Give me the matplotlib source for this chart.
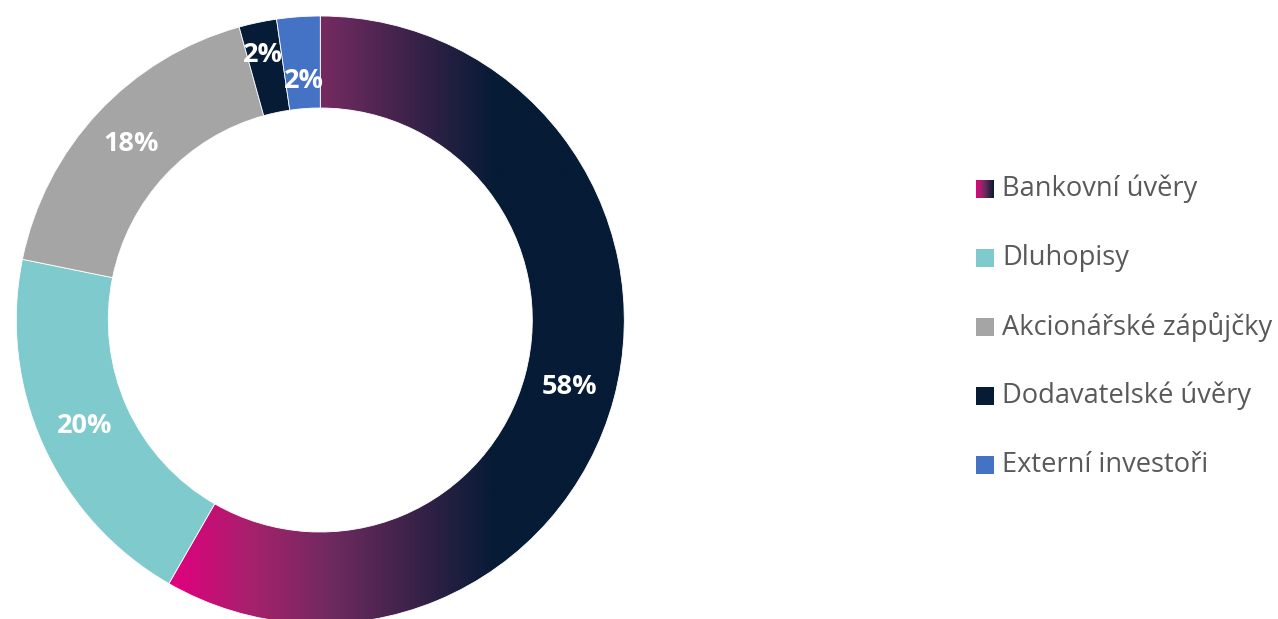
import numpy as np
import matplotlib
matplotlib.use("Agg")
import matplotlib.pyplot as plt
from matplotlib.colors import LinearSegmentedColormap
from matplotlib.patches import Rectangle

# ---- data ----
categories = ["Bankovní úvěry", "Dluhopisy", "Akcionářské zápůjčky",
              "Dodavatelské úvěry", "Externí investoři"]
shares = [58.3, 19.9, 17.5, 2.0, 2.3]
colors = ["#061B35", "#7FCACD", "#A5A5A5", "#061B35", "#4472C4"]
grad_stops = [(0.0, "#E2007F"), (0.25, "#A6216C"), (0.5, "#6E2A5E"),
              (0.75, "#3A2249"), (1.0, "#061B35")]

W, H = 1278, 619
plt.rcParams['font.family'] = ['Open Sans', 'DejaVu Sans']
fig = plt.figure(figsize=(W / 100, H / 100), dpi=100)
ax = fig.add_axes([0, 0, 1, 1])

cx, cy = 320.3, H - 320.0
R = 304.0
ring = 92.0

wedges, _ = ax.pie(shares, colors=colors, startangle=90, counterclock=False,
                   radius=R, center=(cx, cy),
                   wedgeprops=dict(width=ring, edgecolor="white", linewidth=0.6))
ax.set_xlim(0, W)
ax.set_ylim(0, H)
ax.set_aspect("equal")
ax.axis("off")

# gradient fill for first slice
cmap = LinearSegmentedColormap.from_list("g", grad_stops)
x0, x1 = 170.0, 495.0
xs = np.linspace(0, W, 1200)
t = np.clip((xs - x0) / (x1 - x0), 0, 1)
img = np.tile(t, (2, 1))
wedges[0].set_facecolor("none")
im = ax.imshow(img, cmap=cmap, extent=(0, W, 0, H), aspect="auto",
               interpolation="bilinear", zorder=wedges[0].get_zorder() - 0.1)
im.set_clip_path(wedges[0])
ax.set_xlim(0, W)
ax.set_ylim(0, H)

# percentage labels
label_r = R - ring / 2
cum = np.cumsum([0] + shares[:-1])
offsets = [(0, 0), (0, 0), (0, 0), (-4, 13), (2, -18)]
for i, v in enumerate(shares):
    mid = (cum[i] + v / 2) / sum(shares) * 2 * np.pi
    lx = cx + label_r * np.sin(mid) + offsets[i][0]
    ly = cy + label_r * np.cos(mid) + offsets[i][1]
    ax.text(lx, ly, f"{v:.0f}%", color="white", fontsize=19.5, fontweight="bold",
            ha="center", va="center")

# legend
leg_y = [189, 258, 327, 396, 465]
sq = 18
mx = 976
for i, name in enumerate(categories):
    yc = H - leg_y[i]
    if i == 0:
        gx = np.linspace(0, 1, 50)
        ax.imshow(np.tile(gx, (2, 1)), cmap=cmap, extent=(mx, mx + sq, yc - sq / 2, yc + sq / 2),
                  aspect="auto", interpolation="bilinear")
    else:
        ax.add_patch(Rectangle((mx, yc - sq / 2), sq, sq, facecolor=colors[i], edgecolor="none"))
    ax.text(1002, yc, name, color="#595959", fontsize=19.6, ha="left", va="center")

ax.set_xlim(0, W)
ax.set_ylim(0, H)
fig.savefig("out.png", dpi=100)
